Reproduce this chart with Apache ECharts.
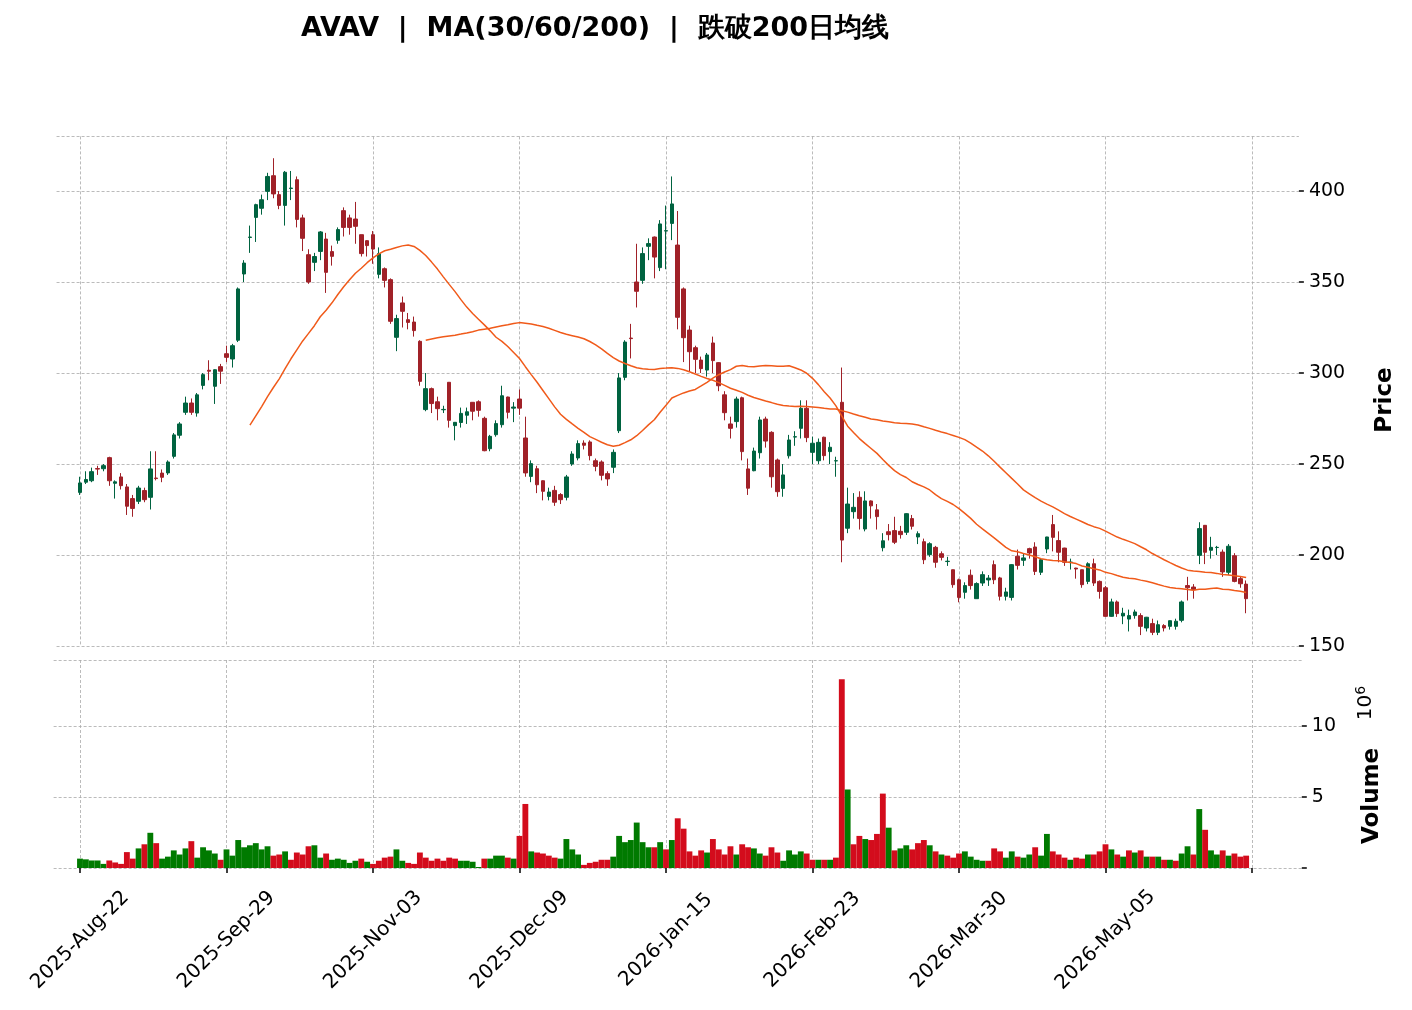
<!DOCTYPE html>
<html><head><meta charset="utf-8">
<script src="https://cdn.jsdelivr.net/npm/echarts@6/dist/echarts.min.js"></script>
<style>html,body{margin:0;padding:0;background:#fff}#c{width:1412px;height:1010px}</style>
</head><body><div id="c"></div>
<script>
const titleText = 'AVAV  |  MA(30/60/200)  |  跌破200日均线';
const tickLabels = ['2025-Aug-22','2025-Sep-29','2025-Nov-03','2025-Dec-09','2026-Jan-15','2026-Feb-23','2026-Mar-30','2026-May-05'];
const opens = [234.4,240.0,240.8,247.5,247.4,253.5,239.4,242.9,237.4,231.0,229.5,235.4,231.7,242.3,245.0,245.1,254.2,265.8,278.4,283.5,
278.0,293.2,301.5,292.7,303.5,310.6,307.7,318.0,354.4,374.5,385.5,390.5,399.8,408.4,398.0,392.1,401.4,406.2,385.2,365.0,
360.8,366.8,373.6,366.7,372.9,389.2,385.2,384.6,376.0,372.7,376.0,354.2,357.3,351.3,319.6,338.5,329.3,328.0,317.4,279.9,
291.4,284.2,279.8,294.9,271.1,272.8,276.8,283.9,284.2,275.1,258.4,266.1,271.6,286.8,280.7,285.7,264.3,243.2,247.4,240.8,
232.2,235.5,233.2,231.7,250.0,253.3,261.5,262.1,251.8,251.1,244.7,248.2,268.3,297.6,319.2,350.0,350.9,369.6,374.7,357.9,
378.0,382.2,370.3,346.2,323.6,313.9,307.1,301.6,316.5,305.7,288.0,272.0,273.3,286.4,247.3,246.3,256.2,274.7,267.4,252.2,
236.6,254.5,264.8,269.6,280.6,256.4,251.8,264.7,256.8,251.7,283.9,214.7,223.8,231.7,214.3,229.7,224.8,204.0,212.8,213.4,
213.0,212.5,220.0,209.9,207.3,200.2,204.2,200.7,196.4,191.9,186.4,179.5,188.9,176.0,184.6,186.3,194.7,187.4,177.3,176.7,
199.3,197.1,203.5,204.4,190.5,203.3,216.7,207.9,203.8,195.9,192.8,191.9,185.5,195.2,185.5,182.0,166.3,174.2,166.5,164.8,
166.7,166.7,159.9,162.3,157.5,161.2,160.8,160.8,164.1,183.2,182.4,199.8,216.3,202.6,204.1,201.6,190.5,199.6,187.0,184.0];
const closes = [239.6,241.5,245.8,247.2,249.1,240.8,240.2,238.1,226.8,225.6,236.8,230.4,247.3,242.0,242.7,251.1,266.0,272.0,283.5,278.4,
288.0,299.1,301.0,301.8,301.0,308.6,315.0,346.2,360.4,374.7,392.5,395.2,408.0,398.4,392.1,410.3,401.6,384.4,374.0,350.0,
364.0,377.5,355.3,364.1,378.8,380.0,380.0,380.6,365.6,370.0,368.1,365.6,350.9,328.4,329.9,333.9,327.8,323.3,295.4,291.4,
283.2,280.4,280.0,274.0,272.9,277.8,278.7,279.0,279.5,257.3,265.2,272.2,287.5,278.4,281.3,280.7,245.1,250.2,238.6,235.0,
234.6,229.0,230.4,242.9,255.5,261.2,260.3,254.6,248.7,243.8,241.8,256.4,297.3,317.0,318.9,344.9,365.6,371.1,363.7,381.9,
378.2,392.9,330.6,319.4,311.7,307.5,302.4,309.9,306.8,293.0,278.2,269.6,285.7,256.8,236.7,257.1,274.2,262.6,243.0,234.8,
244.0,263.2,265.0,280.6,264.5,261.4,261.9,254.6,259.2,251.8,208.2,228.0,226.2,220.1,229.7,227.0,221.1,207.8,211.2,207.0,
211.2,222.7,215.8,211.7,197.4,206.2,196.0,198.7,196.6,183.7,176.7,183.2,183.2,184.3,189.2,187.3,186.4,177.3,179.7,194.7,
194.3,198.4,201.1,191.0,197.4,209.9,209.7,201.5,196.0,196.1,192.3,183.7,195.2,184.6,180.0,166.3,174.2,167.8,168.0,166.7,
168.7,160.8,165.8,157.5,161.7,159.9,163.9,163.6,174.2,182.0,181.0,214.5,201.5,204.2,204.2,190.7,204.8,185.5,184.2,176.0];
const highs = [243,246,248,249,250,254,241,245,239,233,238,237,257,257,247,252,267,273,287,286,
289,300,307,302,305,315,316,347,362,381,393,398,410,418,400,411,411,408,387,368,
366,378,377,370,380,391,387,394,376,373,378,369,358,352,332,342,333,331,318,300,
292,287,282,295,273,281,281,284,285,276,266,274,293,287,284,291,276,252,249,241,
237,238,234,244,257,263,263,263,253,252,246,258,300,318,327,371,369,374,375,384,
392,408,389,347,326,315,309,311,320,306,290,276,287,287,253,259,276,276,268,253,
250,266,268,285,285,265,264,265,262,254,303,237,234,235,235,230,228,212,217,221,
216,223,222,213,209,207,205,202,199,192,187,185,192,185,191,189,197,188,182,195,
203,201,204,207,198,210,222,213,204,198,193,192,196,198,186,183,176,175,171,170,
170,168,166,165,164,162,164,165,175,188,184,218,216,210,205,203,206,201,188,186];
const lows = [233,239,240,244,246,238,231,236,222,221,228,229,225,241,240,244,253,264,277,277,
276,291,296,283,294,306,303,317,350,366,372,387,395,396,390,381,395,380,367,349,
356,362,344,359,371,375,376,371,364,364,360,352,347,327,312,325,324,320,293,279,
278,274,278,270,263,270,272,274,276,257,257,265,270,275,273,277,243,240,234,230,
230,227,228,230,249,252,258,252,246,241,238,245,267,296,308,336,349,362,352,356,
357,373,324,306,301,300,300,298,300,290,274,264,270,252,233,246,253,259,237,232,
232,253,260,264,262,250,250,252,250,243,196,212,220,214,213,220,214,202,208,206,
209,211,214,206,195,199,193,197,194,182,174,176,181,176,183,183,184,175,175,175,
192,194,198,189,189,201,202,196,194,192,187,182,184,183,176,166,166,166,162,158,
165,156,158,156,156,158,159,159,163,175,176,195,195,198,200,188,189,185,182,168];
const volumes = [.66,.61,.53,.53,.29,.53,.39,.29,1.12,.66,1.38,1.67,2.48,1.75,.66,.80,1.24,.95,1.38,1.89,
.73,1.46,1.24,1.02,.58,1.31,.87,1.97,1.46,1.60,1.75,1.31,1.53,.87,.95,1.17,.58,1.09,.95,1.53,
1.60,.73,1.02,.58,.66,.58,.36,.51,.66,.44,.29,.51,.73,.80,1.31,.51,.36,.29,1.09,.73,
.51,.66,.51,.73,.66,.51,.51,.44,.07,.66,.66,.87,.87,.73,.66,2.26,4.51,1.17,1.09,1.02,
.87,.73,.66,2.04,1.31,.95,.22,.36,.44,.58,.58,.80,2.26,1.82,1.97,3.20,1.82,1.46,1.46,1.82,
1.31,1.97,3.50,2.77,1.17,.87,1.24,1.09,2.04,1.31,.95,1.53,.95,1.67,1.46,1.38,1.02,.87,1.46,1.09,
.51,1.24,.95,1.17,1.02,.58,.58,.58,.58,.73,13.3,5.53,1.67,2.26,2.04,1.97,2.40,5.24,2.84,1.24,
1.38,1.60,1.31,1.75,1.97,1.60,1.17,.95,.87,.73,1.02,1.17,.80,.58,.51,.51,1.38,1.17,.73,1.17,
.80,.73,.95,1.46,.87,2.40,1.17,.95,.73,.58,.73,.66,.95,.95,1.17,1.67,1.31,.95,.80,1.24,
1.09,1.24,.80,.80,.80,.58,.58,.51,1.02,1.53,.95,4.15,2.69,1.24,.95,1.24,.87,1.02,.80,.87];

const PAD_L = 4, PAD_R = 9, N = closes.length, TOT = PAD_L + N + PAD_R;
const cats = []; for (let k = 0; k < TOT; k++) cats.push(String(k));
function pad(arr){ const a = []; for (let k=0;k<PAD_L;k++) a.push('-'); arr.forEach(v=>a.push(v)); for (let k=0;k<PAD_R;k++) a.push('-'); return a; }
function ma(p){ const r=[]; for(let i=0;i<N;i++){ if(i<p-1){r.push('-');continue;} let s=0; for(let j=i-p+1;j<=i;j++) s+=closes[j]; r.push(+(s/p).toFixed(3)); } return r; }
const kData = pad(opens.map((o,i)=>[o, closes[i], lows[i], highs[i]]));
const UPV='#007a00', DNV='#d30c1c';
const vData = pad(volumes.map((v,i)=>({value:v, itemStyle:{color:(i===0||closes[i]>=closes[i-1])?UPV:DNV}})));
const isTick = idx => (idx-PAD_L)%25===0 && idx>=PAD_L && idx-PAD_L<=200;
const FONT='DejaVu Sans';
const gridLine = {show:true, lineStyle:{color:'#a9a9a9', type:[3,2], width:0.8}};
const chart = echarts.init(document.getElementById('c'));
const STEP = 5.86;
const gl = 80 - PAD_L*STEP, gw = (TOT-1)*STEP;
const gl2 = 80 - (PAD_L+0.5)*STEP, gw2 = TOT*STEP;
chart.setOption({
  animation:false, backgroundColor:'#fff',
  title:{text:titleText, left:590, top:10, textAlign:'center', textStyle:{fontFamily:FONT, fontSize:27, fontWeight:'bold', color:'#000'}},
  grid:[{left:gl, width:gw, top:136.4, height:509.6, containLabel:false, outerBoundsMode:'none'},
        {left:gl2, width:gw2, top:660, height:208, containLabel:false, outerBoundsMode:'none'}],
  xAxis:[
    {type:'category', gridIndex:0, data:cats, boundaryGap:false, axisLine:{show:false}, axisTick:{show:false}, axisLabel:{show:false},
     splitLine:Object.assign({interval:(i)=>isTick(i)}, gridLine)},
    {type:'category', gridIndex:1, data:cats, boundaryGap:true, axisLine:{show:false},
     axisTick:{show:true, alignWithLabel:true, interval:(i)=>isTick(i), length:5, lineStyle:{color:'#000', width:1.5}},
     axisLabel:{interval:(i)=>isTick(i), rotate:45, align:'center', verticalAlign:'middle', fontFamily:FONT, fontSize:20, color:'#000', margin:72,
       formatter:(v)=>{const k=(+v-PAD_L)/25; return tickLabels[k]||'';}},
     splitLine:Object.assign({interval:(i)=>isTick(i), alignWithLabel:true}, gridLine)}
  ],
  yAxis:[
    {type:'value', gridIndex:0, position:'right', min:150, max:430, interval:50, axisLine:{show:false},
     axisTick:{show:true, length:5, lineStyle:{color:'#000', width:1.5}}, axisLabel:{fontFamily:FONT, fontSize:19, color:'#000', margin:10, showMaxLabel:false}, splitLine:gridLine},
    {type:'value', gridIndex:1, position:'right', min:0, max:14.65, interval:5, axisLine:{show:false},
     axisTick:{show:true, length:5, lineStyle:{color:'#000', width:1.5}}, axisLabel:{fontFamily:FONT, fontSize:19, color:'#000', margin:10, showMaxLabel:false, formatter:v=>v===0?'':String(v)}, splitLine:gridLine}
  ],
  series:[
    {type:'candlestick', xAxisIndex:0, yAxisIndex:0, data:kData, barWidth:4,
     itemStyle:{color:'#006340', color0:'#a02128', borderColor:'#006340', borderColor0:'#a02128', borderWidth:1}},
    {type:'line', xAxisIndex:0, yAxisIndex:0, data:pad(ma(30)), showSymbol:false, lineStyle:{color:'#f05a1a', width:1.5}},
    {type:'line', xAxisIndex:0, yAxisIndex:0, data:pad(ma(60)), showSymbol:false, lineStyle:{color:'#f05a1a', width:1.5}},
    {type:'line', xAxisIndex:0, yAxisIndex:0, data:pad(ma(200)), showSymbol:false, lineStyle:{color:'#f05a1a', width:1.5}},
    {type:'bar', xAxisIndex:1, yAxisIndex:1, data:vData, barWidth:'100%', barCategoryGap:'0%'}
  ],
  graphic:[
    {type:'text', x:1385, y:400, rotation:Math.PI/2, style:{text:'Price', font:'bold 23px "DejaVu Sans"', fill:'#000', textAlign:'center', textVerticalAlign:'middle'}},
    {type:'text', x:1372, y:796, rotation:Math.PI/2, style:{text:'Volume', font:'bold 23px "DejaVu Sans"', fill:'#000', textAlign:'center', textVerticalAlign:'middle'}},
    {type:'text', x:1366, y:703, rotation:Math.PI/2, style:{text:'{a|10}{b|6}', rich:{a:{fontFamily:FONT, fontSize:20, fill:'#000'}, b:{fontFamily:FONT, fontSize:14, fill:'#000', verticalAlign:'top', padding:[0,0,10,0]}}, textAlign:'center', textVerticalAlign:'middle'}}
  ]
});
</script></body></html>
